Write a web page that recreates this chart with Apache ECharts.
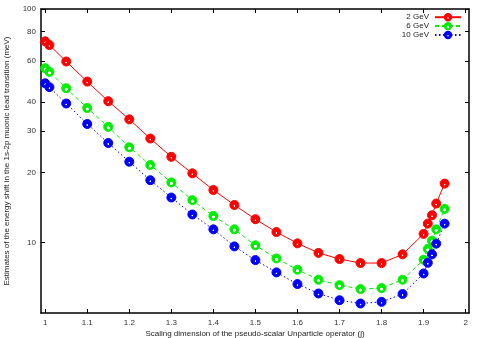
<!DOCTYPE html>
<html><head><meta charset="utf-8">
<script src="https://cdn.jsdelivr.net/npm/echarts@6/dist/echarts.min.js"></script>
<style>html,body{margin:0;padding:0;background:#fff}#c{width:483px;height:338px}</style>
</head><body><div id="c"></div>
<script>
const jValues = [1.0, 1.01, 1.05, 1.1, 1.15, 1.2, 1.25, 1.3, 1.35, 1.4, 1.45, 1.5, 1.55, 1.6, 1.65, 1.7, 1.75, 1.8, 1.85, 1.9, 1.91, 1.92, 1.93, 1.95];
const shift2GeV = [72.7, 70.1, 59.6, 48.9, 40.3, 33.7, 27.9, 23.3, 19.8, 16.8, 14.5, 12.6, 11.1, 9.93, 9.04, 8.51, 8.18, 8.18, 8.91, 10.9, 12.06, 13.1, 14.7, 17.9];
const shift6GeV = [55.8, 53.8, 45.8, 37.7, 31.3, 25.6, 21.5, 18.1, 15.2, 13.0, 11.4, 9.74, 8.56, 7.66, 6.94, 6.58, 6.33, 6.39, 6.94, 8.45, 9.4, 10.2, 11.4, 13.95];
const shift10GeV = [48.1, 46.3, 39.4, 32.2, 26.7, 22.2, 18.5, 15.6, 13.2, 11.4, 9.64, 8.42, 7.46, 6.65, 6.06, 5.67, 5.49, 5.58, 6.03, 7.38, 8.2, 8.91, 9.9, 12.06];
const seriesNames = ['2 GeV', '6 GeV', '10 GeV'];
const xTicks = [1, 1.1, 1.2, 1.3, 1.4, 1.5, 1.6, 1.7, 1.8, 1.9, 2];
const yTicks = [10, 20, 30, 40, 60, 80, 100];

const chart = echarts.init(document.getElementById('c'), null, {renderer: 'canvas'});
const font = 'Liberation Sans, Arial, sans-serif';
function grad(c, w) {
  return new echarts.graphic.RadialGradient(0.5, 0.6, 0.5, [
    {offset: 0, color: '#ffffff'}, {offset: w, color: '#ffffff'},
    {offset: w + 0.12, color: c}, {offset: 1, color: c}]);
}
function mk(name, vals, color, type, w) {
  return {
    name: name, type: 'line', xAxisIndex: 0, yAxisIndex: 0,
    data: jValues.map((x, i) => [x, vals[i]]),
    symbol: 'circle', symbolSize: 9,
    lineStyle: {color: color, width: 1, type: type},
    itemStyle: {color: grad(color, w), borderColor: color, borderWidth: 1},
    emphasis: {disabled: true}, animation: false
  };
}
const axisBase = {
  axisLine: {show: true, onZero: false, lineStyle: {color: '#000', width: 1.5}},
  splitLine: {show: false}
};
chart.setOption({
  animation: false,
  grid: {left: 41, right: 14, top: 9, bottom: 25, containLabel: false, outerBoundsMode: 'none'},
  legend: {
    orient: 'vertical', right: 16, top: 8, align: 'right', itemGap: 0.5,
    itemWidth: 26, itemHeight: 8,
    textStyle: {fontSize: 8, fontFamily: font, color: '#222', padding: [0, 1, 0, 0]},
    data: seriesNames
  },
  xAxis: [
    Object.assign({}, axisBase, {
      type: 'value', min: 0.99, max: 2.008, position: 'bottom',
      axisTick: {inside: true, length: 4, customValues: xTicks, lineStyle: {color: '#000', width: 1}},
      axisLabel: {customValues: xTicks, fontSize: 8, fontFamily: font, color: '#333', margin: 6},
      name: 'Scaling dimension of the pseudo-scalar Unparticle operator (j)',
      nameLocation: 'middle', nameGap: 17, nameMoveOverlap: false,
      nameTextStyle: {fontSize: 8, fontFamily: font, color: '#222'}
    }),
    Object.assign({}, axisBase, {
      type: 'value', min: 0.99, max: 2.008, position: 'top',
      axisTick: {inside: true, length: 4, customValues: xTicks, lineStyle: {color: '#000', width: 1}},
      axisLabel: {show: false}
    })
  ],
  yAxis: [
    Object.assign({}, axisBase, {
      type: 'log', logBase: 10, min: 5, max: 100, position: 'left',
      axisTick: {inside: true, length: 4, customValues: yTicks, lineStyle: {color: '#000', width: 1}},
      axisLabel: {customValues: yTicks, fontSize: 8, fontFamily: font, color: '#333', margin: 5},
      minorTick: {show: false},
      name: 'Estimates of the energy shift in the 1s-2p muonic lead transition (meV)',
      nameLocation: 'middle', nameGap: 30, nameMoveOverlap: false,
      nameTextStyle: {fontSize: 8, fontFamily: font, color: '#222'}
    }),
    Object.assign({}, axisBase, {
      type: 'log', logBase: 10, min: 5, max: 100, position: 'right',
      axisTick: {inside: true, length: 4, customValues: yTicks, lineStyle: {color: '#000', width: 1}},
      axisLabel: {show: false}, minorTick: {show: false}
    })
  ],
  series: [
    mk(seriesNames[0], shift2GeV, '#ff0000', 'solid', 0.1),
    mk(seriesNames[1], shift6GeV, '#00ee00', [4, 3], 0.25),
    mk(seriesNames[2], shift10GeV, '#0000ff', [1.5, 2.5], 0.1)
  ]
});
</script></body></html>
